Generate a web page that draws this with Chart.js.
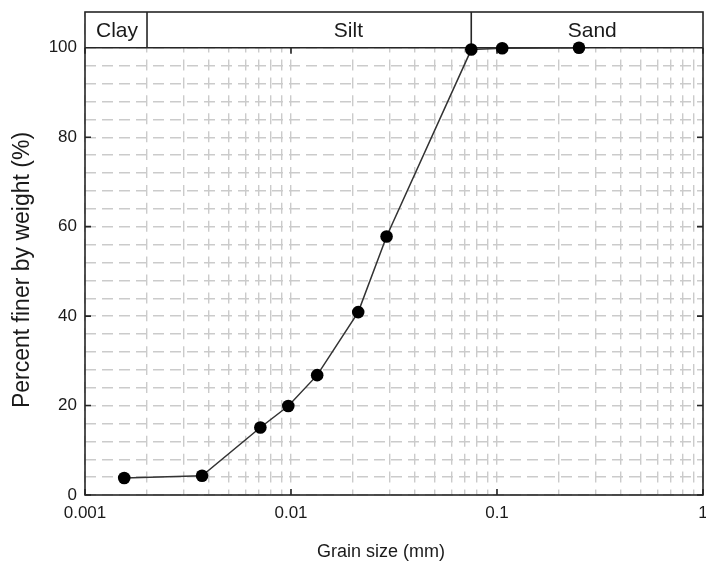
<!DOCTYPE html>
<html>
<head>
<meta charset="utf-8">
<script src="https://cdn.jsdelivr.net/npm/chart.js@4/dist/chart.umd.min.js"></script>
<style>
  html, body { margin: 0; padding: 0; background: #fff; }
  #wrap { width: 706px; height: 566px; }
</style>
</head>
<body>
<div id="wrap"><canvas id="grading"></canvas></div>
<script>
// sieve / hydrometer results
const grainSize = [0.00155, 0.0037, 0.0071, 0.0097, 0.0134, 0.0212, 0.0291, 0.075, 0.106, 0.25];
const percentFiner = [3.8, 4.3, 15.1, 19.9, 26.8, 40.9, 57.8, 99.6, 99.9, 100];

// axis labels
const xTickLabels = [0.001, 0.01, 0.1, 1];
const yTickLabels = [0, 20, 40, 60, 80, 100];
const xTitle = 'Grain size (mm)';
const yTitle = 'Percent finer by weight (%)';

// soil classes along the top strip
const bandNames = ['Clay', 'Silt', 'Sand'];
const bandBounds = [0.001, 0.002, 0.075, 1];
const bandLabelAt = [0.00143, 0.019, 0.29];

const FONT = "'Liberation Sans', Arial, sans-serif";
const INK = '#262626';
const TEXT = '#1a1a1a';
const GRID = '#cbcbcb';

// minor grid every 1..9 per decade, every 4 % vertically
function logGridValues() {
    let vals = [];
    for (let e = -3; e < 0; e++) {
        for (let m = 1; m < 10; m++) vals.push(m * Math.pow(10, e));
    }
    vals.push(1);
    return vals;
}
function linGridValues() {
    let vals = [];
    for (let v = 0; v <= 100; v += 4) vals.push(v);
    return vals;
}
function isLabel(v, list) {
    return list.some(t => Math.abs(v - t) < t * 1e-6 + 1e-9);
}

const frame = {
    id: 'frame',
    beforeDatasetsDraw(chart) {
        const {ctx, chartArea: a, scales: {x, y}} = chart;
        const y100 = y.getPixelForValue(100);
        ctx.save();

        // clear the class strip above 100 %
        ctx.fillStyle = '#fff';
        ctx.fillRect(a.left, a.top, a.right - a.left, y100 - a.top);

        ctx.strokeStyle = INK;
        ctx.lineWidth = 1.6;
        ctx.beginPath();
        // inward ticks
        yTickLabels.forEach(v => {
            const py = y.getPixelForValue(v);
            ctx.moveTo(a.left, py); ctx.lineTo(a.left + 6, py);
            ctx.moveTo(a.right, py); ctx.lineTo(a.right - 6, py);
        });
        xTickLabels.forEach(v => {
            const px = x.getPixelForValue(v);
            ctx.moveTo(px, a.bottom); ctx.lineTo(px, a.bottom - 6);
            ctx.moveTo(px, y100); ctx.lineTo(px, y100 + 6);
        });
        // 100 % line and class boundaries
        ctx.moveTo(a.left, y100); ctx.lineTo(a.right, y100);
        bandBounds.slice(1, -1).forEach(v => {
            const px = x.getPixelForValue(v);
            ctx.moveTo(px, a.top); ctx.lineTo(px, y100);
        });
        ctx.stroke();
        ctx.strokeRect(a.left, a.top, a.right - a.left, a.bottom - a.top);

        ctx.fillStyle = TEXT;
        ctx.font = '21px ' + FONT;
        ctx.textAlign = 'center';
        ctx.textBaseline = 'middle';
        bandNames.forEach((name, i) => {
            ctx.fillText(name, x.getPixelForValue(bandLabelAt[i]), (a.top + y100) / 2 + 1);
        });

        // axis titles
        ctx.font = '18px ' + FONT;
        ctx.fillText(xTitle, 381, 552);
        ctx.translate(23, 270);
        ctx.rotate(-Math.PI / 2);
        ctx.font = '23px ' + FONT;
        ctx.fillText(yTitle, 0, 0);
        ctx.restore();
    }
};

const points = grainSize.map((g, i) => ({x: g, y: percentFiner[i]}));

new Chart(document.getElementById('grading'), {
    type: 'scatter',
    data: {
        datasets: [{
            data: points,
            showLine: true,
            borderColor: '#333',
            borderWidth: 1.5,
            pointRadius: 6.3,
            pointHoverRadius: 6.3,
            pointBackgroundColor: '#000',
            pointBorderColor: '#000',
            pointBorderWidth: 0,
            clip: false
        }]
    },
    options: {
        responsive: true,
        maintainAspectRatio: false,
        animation: false,
        events: [],
        layout: {autoPadding: false, padding: {top: 12, right: 3, left: 0, bottom: 0}},
        plugins: {legend: {display: false}, tooltip: {enabled: false}},
        scales: {
            x: {
                type: 'logarithmic',
                min: 0.001,
                max: 1,
                afterBuildTicks: scale => { scale.ticks = logGridValues().map(v => ({value: v})); },
                afterFit: scale => {
                    scale.height = 71;
                    scale.paddingLeft = 0;
                    scale.paddingRight = 0;
                },
                grid: {color: GRID, lineWidth: 1.4, drawTicks: false},
                border: {display: false, dash: [11, 6.92], dashOffset: 6.3},
                ticks: {
                    autoSkip: false,
                    maxRotation: 0,
                    padding: 8,
                    color: TEXT,
                    font: {family: FONT, size: 17},
                    callback: v => isLabel(v, xTickLabels) ? String(v) : ''
                }
            },
            y: {
                min: 0,
                max: 108,
                afterBuildTicks: scale => { scale.ticks = linGridValues().map(v => ({value: v})); },
                afterFit: scale => {
                    scale.width = 85;
                    scale.paddingTop = 0;
                    scale.paddingBottom = 0;
                },
                grid: {color: GRID, lineWidth: 1.4, drawTicks: false},
                border: {display: false, dash: [11, 6]},
                ticks: {
                    autoSkip: false,
                    padding: 8,
                    color: TEXT,
                    font: {family: FONT, size: 17},
                    callback: v => isLabel(v, yTickLabels) ? String(v) : ''
                }
            }
        }
    },
    plugins: [frame]
});
</script>
</body>
</html>
